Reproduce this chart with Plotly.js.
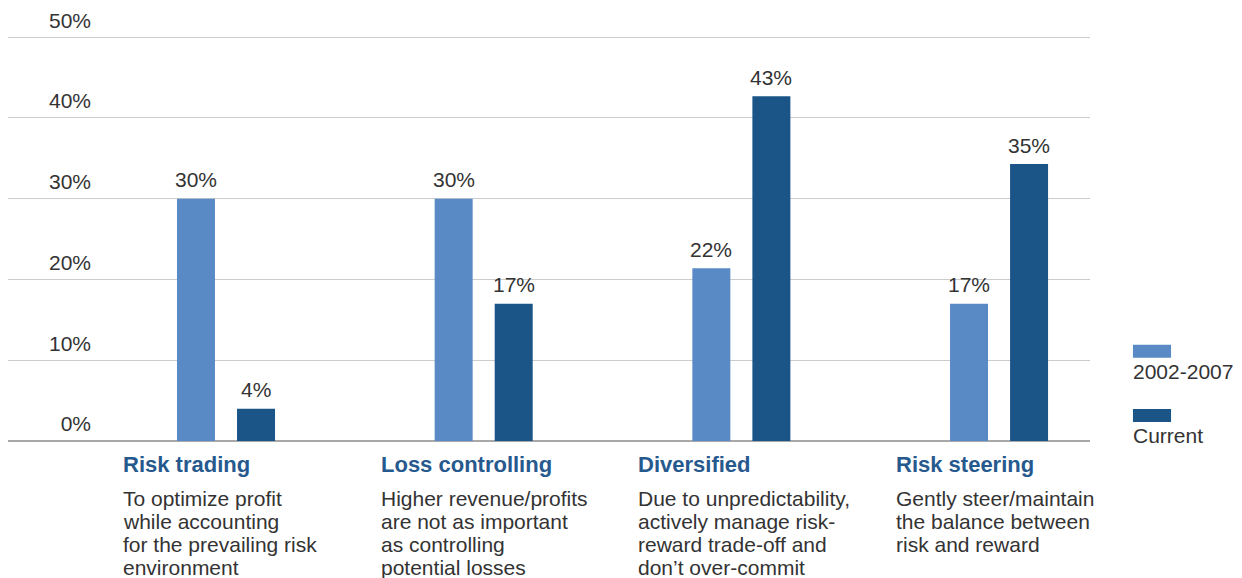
<!DOCTYPE html>
<html>
<head>
<meta charset="utf-8">
<script src="https://cdn.plot.ly/plotly-3.0.1.min.js"></script>
<style>html,body{margin:0;padding:0;background:#fff;}#chart{width:1242px;height:578px;}</style>
</head>
<body>
<div id="chart"></div>
<script>
var categories = ['Risk trading', 'Loss controlling', 'Diversified', 'Risk steering'];
var descriptions = [
  ['To optimize profit', 'while accounting', 'for the prevailing risk', 'environment'],
  ['Higher revenue/profits', 'are not as important', 'as controlling', 'potential losses'],
  ['Due to unpredictability,', 'actively manage risk-', 'reward trade-off and', 'don\u2019t over-commit'],
  ['Gently steer/maintain', 'the balance between', 'risk and reward']
];
var seriesNames = ['2002-2007', 'Current'];
var valuesPrev = [30, 30, 21.4, 17];
var valuesCur = [4, 17, 42.7, 34.3];
var labelsPrev = ['30%', '30%', '22%', '17%'];
var labelsCur = ['4%', '17%', '43%', '35%'];
var yTickVals = [0, 10, 20, 30, 40, 50];
var yTickText = ['0%', '10%', '20%', '30%', '40%', '50%'];

var colPrev = '#5a8ac5';
var colCur = '#1b5587';
var titleCol = '#26598e';
var textCol = '#333333';
var FONT = 'Liberation Sans, Arial, sans-serif';

var traces = [
  {type: 'bar', name: seriesNames[0], x: categories, y: valuesPrev, marker: {color: colPrev}, hoverinfo: 'none'},
  {type: 'bar', name: seriesNames[1], x: categories, y: valuesCur, marker: {color: colCur}, hoverinfo: 'none'}
];

var annotations = [];
categories.forEach(function (c, i) {
  annotations.push({x: c, xref: 'x', y: 0, yref: 'paper', xanchor: 'left', yanchor: 'middle',
    xshift: -105, yshift: -23, showarrow: false, text: '<b>' + c + '</b>',
    font: {family: FONT, size: 22, color: titleCol}});
  descriptions[i].forEach(function (line, j) {
    annotations.push({x: c, xref: 'x', y: 0, yref: 'paper', xanchor: 'left', yanchor: 'middle',
      xshift: -105, yshift: -57 - 23.2 * j, showarrow: false, text: line,
      font: {family: FONT, size: 21, color: textCol}});
  });
  annotations.push({x: c, xref: 'x', y: valuesPrev[i], yref: 'y', xanchor: 'center', yanchor: 'middle',
    xshift: -30, yshift: 19, showarrow: false, text: labelsPrev[i],
    font: {family: FONT, size: 21, color: textCol}});
  annotations.push({x: c, xref: 'x', y: valuesCur[i], yref: 'y', xanchor: 'center', yanchor: 'middle',
    xshift: 30, yshift: 19, showarrow: false, text: labelsCur[i],
    font: {family: FONT, size: 21, color: textCol}});
});

// custom legend (swatch above label)
var legendCols = [colPrev, colCur];
var shapes = [];
seriesNames.forEach(function (n, k) {
  var yTop = k === 0 ? 0.2376 : 0.0792;
  var yBot = k === 0 ? 0.2054 : 0.0470;
  shapes.push({type: 'rect', xref: 'paper', yref: 'paper', x0: 1.0397, x1: 1.0749, y0: yBot, y1: yTop,
    fillcolor: legendCols[k], line: {width: 0}});
  annotations.push({x: 1.0397, xref: 'paper', y: yBot, yref: 'paper', xanchor: 'left', yanchor: 'middle',
    xshift: -2, yshift: -14, showarrow: false, text: n, font: {family: FONT, size: 21, color: textCol}});
});

var layout = {
  width: 1242, height: 578,
  margin: {l: 8, r: 152, t: 36, b: 137, pad: 0},
  paper_bgcolor: '#ffffff', plot_bgcolor: '#ffffff',
  showlegend: false,
  barmode: 'group', bargap: 0.534, bargroupgap: 0.367,
  font: {family: FONT, size: 21, color: textCol},
  xaxis: {type: 'category', range: [-0.846, 3.353], showticklabels: false, showgrid: false,
    zeroline: false, showline: false, ticks: '', fixedrange: true},
  yaxis: {range: [0, 50.15], tickmode: 'array', tickvals: yTickVals, ticktext: yTickText,
    showgrid: true, gridcolor: '#cccccc', gridwidth: 1,
    zeroline: true, zerolinecolor: '#a8a8a8', zerolinewidth: 1.5, showline: false, ticks: '',
    anchor: 'free', position: 0.0767, ticklabelshift: -17,
    tickfont: {family: FONT, size: 21, color: textCol}, fixedrange: true},
  annotations: annotations,
  shapes: shapes
};

Plotly.newPlot('chart', traces, layout, {displayModeBar: false, staticPlot: true});
</script>
</body>
</html>
